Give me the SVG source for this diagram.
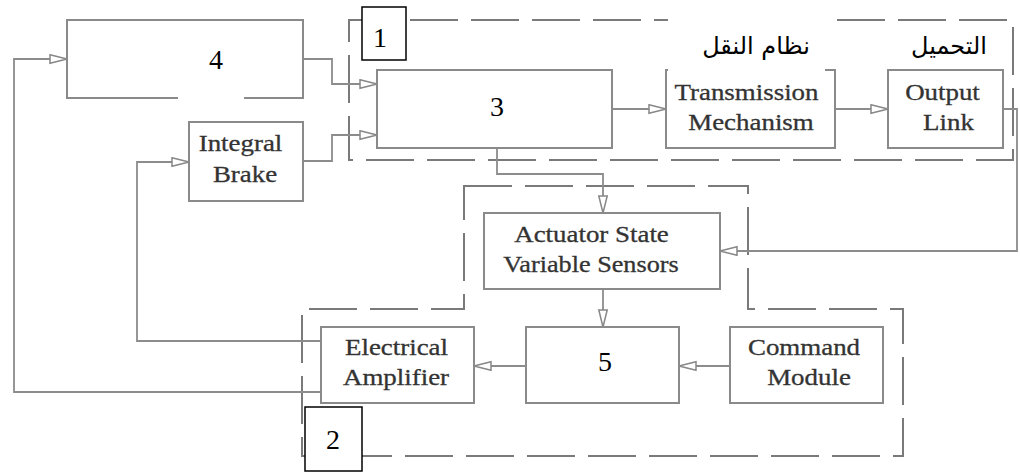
<svg xmlns="http://www.w3.org/2000/svg" width="1020" height="473" viewBox="0 0 1020 473">
<defs>
<marker id="arr" markerUnits="userSpaceOnUse" markerWidth="20" markerHeight="12" refX="18" refY="5" orient="auto">
<path d="M1,0.8 L18,5 L1,9.2 Z" fill="#fff" stroke="#888" stroke-width="1.5"/>
</marker>
</defs>
<style>
.box{fill:#fff;stroke:#8a8a8a;stroke-width:2}
.dash{fill:none;stroke:#7a7a7a;stroke-width:2;stroke-dasharray:48 13}
.c{fill:none;stroke:#8c8c8c;stroke-width:1.8;marker-end:url(#arr)}
.t{font-family:"Liberation Serif","Times New Roman",serif;font-size:23px;fill:#333;text-anchor:middle;stroke:#333;stroke-width:0.3}
.n{font-family:"Liberation Serif","Times New Roman",serif;font-size:28px;fill:#000;text-anchor:middle}
.lbl{fill:#fff;stroke:#000;stroke-width:1.5}
.ar{font-family:"DejaVu Sans",sans-serif;font-size:24px;fill:#000;text-anchor:middle}
</style>
<rect width="1020" height="473" fill="#fff"/>

<g id="group1">
<rect class="dash" x="349" y="20" width="664" height="140"/>
</g>
<g id="group2">
<polygon class="dash" points="464,186 748,186 748,309 903,309 903,456 302,456 302,309 464,309"/>
</g>

<g id="connectors">
<polyline class="c" points="321,392 14,392 14,59 67,59"/>
<polyline class="c" points="321,341 137,341 137,162 189,162"/>
<polyline class="c" points="303,59 332,59 332,84 377,84"/>
<polyline class="c" points="303,161 332,161 332,135 377,135"/>
<polyline class="c" points="497,148 497,174 603,174 603,213"/>
<polyline class="c" points="612,109 666,109"/>
<polyline class="c" points="835,109 888,109"/>
<polyline class="c" points="1003,109 1017,109 1017,251 720,251"/>
<polyline class="c" points="603,289 603,327"/>
<polyline class="c" points="730,366 679,366"/>
<polyline class="c" points="526,366 474,366"/>
</g>

<g id="node4">
<rect class="box" x="67" y="20" width="236" height="78"/>
<rect x="178" y="92" width="66" height="8" fill="#fff"/>
<text class="n" x="216" y="69">4</text>
</g>

<g id="node3">
<rect class="box" x="377" y="70" width="235" height="78"/>
<text class="n" x="497" y="116">3</text>
</g>

<g id="integral-brake">
<rect class="box" x="189" y="122" width="114" height="79"/>
<text class="t" transform="translate(240.5,151) scale(1.17,1)">Integral</text>
<text class="t" transform="translate(245,182) scale(1.17,1)">Brake</text>
</g>

<g id="transmission">
<rect class="box" x="666" y="70" width="169" height="78"/>
<rect x="668" y="18" width="157" height="54" fill="#fff"/>
<text class="ar" x="756" y="54">نظام النقل</text>
<text class="t" transform="translate(746.5,100) scale(1.17,1)">Transmission</text>
<text class="t" transform="translate(751,130) scale(1.17,1)">Mechanism</text>
</g>

<g id="output-link">
<rect class="box" x="888" y="70" width="115" height="78"/>
<text class="ar" x="949" y="54">التحميل</text>
<text class="t" transform="translate(942.5,100) scale(1.17,1)">Output</text>
<text class="t" transform="translate(948.5,130) scale(1.17,1)">Link</text>
</g>

<g id="actuator-sensors">
<rect class="box" x="484" y="213" width="236" height="76"/>
<text class="t" transform="translate(591.5,242) scale(1.17,1)">Actuator State</text>
<text class="t" transform="translate(591,272) scale(1.14,1)">Variable Sensors</text>
</g>

<g id="node5">
<rect class="box" x="526" y="327" width="153" height="76"/>
<text class="n" x="605" y="371">5</text>
</g>

<g id="command-module">
<rect class="box" x="730" y="327" width="153" height="76"/>
<text class="t" transform="translate(804,355) scale(1.17,1)">Command</text>
<text class="t" transform="translate(809,385) scale(1.17,1)">Module</text>
</g>

<g id="electrical-amplifier">
<rect class="box" x="321" y="327" width="153" height="76"/>
<text class="t" transform="translate(396.5,355) scale(1.17,1)">Electrical</text>
<text class="t" transform="translate(396,385) scale(1.17,1)">Amplifier</text>
</g>

<g id="label1">
<rect class="lbl" x="362" y="7" width="44" height="53"/>
<text class="n" x="380" y="47">1</text>
</g>

<g id="label2">
<rect class="lbl" x="305" y="407" width="57" height="64"/>
<text class="n" x="333" y="449">2</text>
</g>
</svg>
